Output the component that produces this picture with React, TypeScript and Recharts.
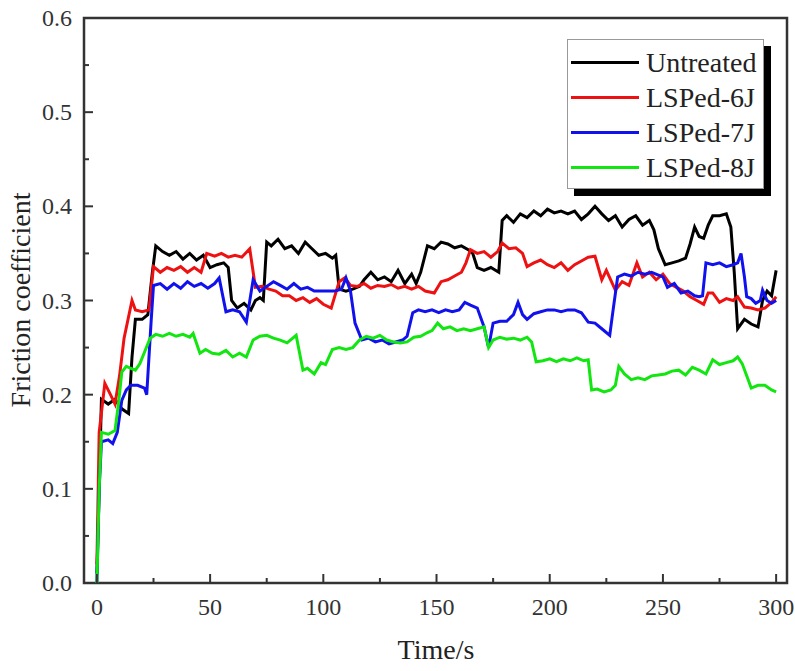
import React from 'react';
import { LineChart, Line, XAxis, YAxis, ReferenceArea } from 'recharts';

// values (time in s, friction coefficient)
const untreatedTime = [0, 1, 2, 5, 8, 11, 14, 15.5, 17, 20, 22.5, 24.5, 26, 29, 32, 35, 38, 41, 44, 47, 50, 53, 56, 58, 59.5, 62, 65, 68, 70, 72, 73.5, 75, 77, 80, 83, 86, 89, 92, 95, 98, 101, 104, 105.5, 107, 110, 113, 116, 118, 121, 124, 127, 130, 133, 136, 139, 141, 143, 146, 149, 152, 155, 158, 161, 164, 166, 168, 171, 174, 177.5, 179, 181, 184, 187, 190, 193, 196, 199, 202, 205, 208, 211, 214, 217, 220, 223, 226, 229, 232, 235, 238, 241, 244, 246, 248, 251, 254, 257, 260, 262, 264, 266, 268, 270, 272, 275, 278, 280, 281.5, 283, 286, 289, 292, 294, 296, 298, 300];
const untreatedValue = [0.01, 0.1, 0.195, 0.19, 0.195, 0.185, 0.18, 0.24, 0.28, 0.28, 0.285, 0.33, 0.358, 0.352, 0.348, 0.352, 0.344, 0.35, 0.343, 0.348, 0.335, 0.338, 0.34, 0.335, 0.3, 0.292, 0.297, 0.29, 0.3, 0.303, 0.3, 0.362, 0.358, 0.365, 0.355, 0.358, 0.35, 0.362, 0.355, 0.348, 0.35, 0.345, 0.348, 0.312, 0.31, 0.312, 0.315, 0.322, 0.33, 0.322, 0.325, 0.32, 0.332, 0.318, 0.328, 0.318, 0.33, 0.358, 0.355, 0.362, 0.36, 0.356, 0.358, 0.354, 0.35, 0.335, 0.332, 0.335, 0.33, 0.385, 0.39, 0.383, 0.392, 0.388, 0.395, 0.39, 0.397, 0.393, 0.395, 0.392, 0.395, 0.386, 0.392, 0.4, 0.392, 0.385, 0.39, 0.378, 0.386, 0.39, 0.38, 0.385, 0.375, 0.355, 0.338, 0.34, 0.342, 0.345, 0.36, 0.378, 0.368, 0.366, 0.38, 0.39, 0.39, 0.392, 0.378, 0.33, 0.27, 0.28, 0.275, 0.272, 0.3, 0.31, 0.305, 0.332];

const lsp6Time = [0, 1, 3.5, 6, 8, 10, 12, 15.5, 17, 20, 23, 25, 28, 31, 34, 37, 40, 43, 46, 48.5, 52, 55, 58, 61, 64, 67.5, 70, 73, 76, 79, 82, 85, 88, 91, 94, 97, 100, 103.5, 107, 109.5, 112, 115, 118, 121, 124, 127, 130, 133, 136, 139, 142, 145, 149, 152, 155, 158, 161, 163, 165, 168, 171, 174, 177, 179, 182, 185, 188, 190, 193, 196, 199, 202, 205, 208, 211, 214, 217, 220, 223, 225, 229, 232, 235, 238.5, 241, 244, 247, 250, 253, 256, 259, 262, 265, 268, 270, 272, 275, 278, 281, 283, 286, 289, 292, 295, 298, 300];
const lsp6Value = [0.02, 0.16, 0.212, 0.2, 0.19, 0.22, 0.26, 0.3, 0.29, 0.288, 0.29, 0.336, 0.33, 0.335, 0.332, 0.336, 0.33, 0.335, 0.33, 0.35, 0.347, 0.35, 0.346, 0.348, 0.346, 0.355, 0.314, 0.315, 0.312, 0.31, 0.305, 0.305, 0.3, 0.303, 0.298, 0.302, 0.296, 0.292, 0.32, 0.324, 0.316, 0.315, 0.318, 0.313, 0.316, 0.315, 0.317, 0.313, 0.315, 0.312, 0.315, 0.31, 0.308, 0.32, 0.322, 0.326, 0.33, 0.34, 0.354, 0.35, 0.352, 0.346, 0.352, 0.361, 0.355, 0.356, 0.35, 0.336, 0.34, 0.343, 0.338, 0.335, 0.34, 0.332, 0.338, 0.342, 0.346, 0.347, 0.322, 0.332, 0.311, 0.32, 0.316, 0.34, 0.325, 0.33, 0.322, 0.328, 0.318, 0.314, 0.31, 0.304, 0.3, 0.296, 0.308, 0.308, 0.298, 0.302, 0.3, 0.304, 0.293, 0.292, 0.29, 0.292, 0.298, 0.304];

const lsp7Time = [0, 1, 2, 5, 7, 9, 11, 13, 15, 18, 21, 22, 24, 25, 28, 31, 34, 37, 40, 43, 46, 49, 52, 54, 57, 60, 63, 66, 69, 72, 75, 78, 81, 84, 87, 90, 93, 96, 99, 102, 105, 108, 110, 112, 114, 117, 120, 123, 126, 129, 132, 135, 137, 139.5, 142, 145, 148, 151, 154, 157, 160, 162.5, 165, 168, 171, 173, 175, 178, 181, 184, 186, 188, 190, 193, 196, 199, 202, 205, 208, 211, 214, 217, 220, 223, 226.5, 228, 230, 233, 236, 239, 242, 245, 248, 250, 252, 255, 258, 261, 264, 266, 267.5, 269, 272, 275, 278, 281, 283, 284.5, 286, 287, 289, 291, 293, 294, 296, 298, 300];
const lsp7Value = [0, 0.1, 0.15, 0.152, 0.148, 0.16, 0.194, 0.205, 0.21, 0.21, 0.207, 0.2, 0.28, 0.316, 0.318, 0.312, 0.318, 0.313, 0.32, 0.315, 0.318, 0.313, 0.318, 0.324, 0.288, 0.29, 0.288, 0.277, 0.322, 0.31, 0.315, 0.32, 0.316, 0.312, 0.318, 0.312, 0.314, 0.31, 0.31, 0.31, 0.31, 0.312, 0.324, 0.31, 0.276, 0.258, 0.26, 0.256, 0.258, 0.254, 0.256, 0.258, 0.262, 0.287, 0.29, 0.288, 0.29, 0.287, 0.29, 0.288, 0.29, 0.298, 0.295, 0.292, 0.272, 0.25, 0.276, 0.278, 0.278, 0.285, 0.298, 0.285, 0.28, 0.286, 0.288, 0.29, 0.29, 0.288, 0.29, 0.29, 0.287, 0.277, 0.276, 0.27, 0.263, 0.29, 0.325, 0.328, 0.326, 0.33, 0.328, 0.33, 0.327, 0.325, 0.314, 0.318, 0.308, 0.31, 0.305, 0.304, 0.305, 0.34, 0.338, 0.34, 0.336, 0.338, 0.34, 0.35, 0.325, 0.304, 0.302, 0.297, 0.3, 0.311, 0.3, 0.297, 0.3];

const lsp8Time = [0, 1, 2, 5, 8, 9.5, 11, 13, 15, 17, 19, 21, 23.5, 26, 29, 32, 35, 38, 41, 42.5, 45.5, 48, 51, 54, 57, 60, 63, 66, 69, 72, 75, 78, 81, 84, 88, 91, 93, 96, 99, 101, 104, 107, 110, 113, 116, 119, 122, 125, 128, 131, 134, 137, 140, 143, 146, 148, 150.5, 153, 156, 159, 162, 165, 168, 171, 173, 175, 178, 181, 184, 187, 190, 192, 194, 197, 200, 203, 206, 209, 212, 215, 217, 218.5, 221, 224, 227, 229, 230.5, 233, 236, 239, 242, 245, 248, 251, 254, 257, 260, 263, 266, 269, 272, 275, 278, 281, 283, 285, 287, 289, 292, 295, 298, 300];
const lsp8Value = [0, 0.1, 0.16, 0.158, 0.162, 0.19, 0.224, 0.23, 0.228, 0.226, 0.233, 0.245, 0.26, 0.264, 0.262, 0.265, 0.262, 0.264, 0.261, 0.265, 0.244, 0.248, 0.244, 0.243, 0.247, 0.24, 0.244, 0.24, 0.258, 0.262, 0.263, 0.26, 0.258, 0.255, 0.263, 0.226, 0.228, 0.222, 0.234, 0.232, 0.248, 0.25, 0.248, 0.25, 0.258, 0.262, 0.26, 0.263, 0.258, 0.256, 0.255, 0.256, 0.261, 0.262, 0.266, 0.268, 0.276, 0.27, 0.272, 0.268, 0.27, 0.268, 0.27, 0.272, 0.25, 0.258, 0.261, 0.259, 0.26, 0.258, 0.261, 0.256, 0.235, 0.236, 0.238, 0.235, 0.238, 0.236, 0.239, 0.236, 0.237, 0.205, 0.206, 0.203, 0.205, 0.21, 0.23, 0.222, 0.216, 0.218, 0.216, 0.22, 0.221, 0.222, 0.225, 0.226, 0.221, 0.229, 0.226, 0.222, 0.237, 0.232, 0.234, 0.236, 0.24, 0.233, 0.22, 0.207, 0.21, 0.21, 0.205, 0.203];

const xTicks = [0, 25, 50, 75, 100, 125, 150, 175, 200, 225, 250, 275, 300];
const yTicks = [0, 0.05, 0.1, 0.15, 0.2, 0.25, 0.3, 0.35, 0.4, 0.45, 0.5, 0.55, 0.6];

const series = [
  { name: 'Untreated', color: '#000000', time: untreatedTime, value: untreatedValue },
  { name: 'LSPed-6J', color: '#ee1111', time: lsp6Time, value: lsp6Value },
  { name: 'LSPed-7J', color: '#1111ee', time: lsp7Time, value: lsp7Value },
  { name: 'LSPed-8J', color: '#11e611', time: lsp8Time, value: lsp8Value },
];

const FONT = '"Liberation Serif", "Times New Roman", serif';
const SVG_FONT = 'Liberation Serif';
const AXIS = '#333';

const toPoints = (time: number[], value: number[]) => time.map((t, i) => ({ t, v: value[i] }));

// ticks point into the plot, minor ones shorter and without a label
const renderXTick = (props: any) => {
  const { x, y, payload } = props;
  const major = payload.value % 50 === 0;
  return (
    <g key={`x-${payload.value}`}>
      <line x1={x} x2={x} y1={y} y2={y - (major ? 9 : 5)} stroke={AXIS} strokeWidth={2} />
      {major && (
        <text x={x} y={y + 32} textAnchor="middle" fontFamily={SVG_FONT} fontSize={24} fill="#333">
          {payload.value}
        </text>
      )}
    </g>
  );
};

const renderYTick = (props: any) => {
  const { x, y, payload } = props;
  const v = payload.value as number;
  const major = Math.abs(v * 10 - Math.round(v * 10)) < 1e-6;
  return (
    <g key={`y-${v}`}>
      <line x1={x} x2={x + (major ? 9 : 5)} y1={y} y2={y} stroke={AXIS} strokeWidth={2} />
      {major && (
        <text x={x - 12} y={y + 8} textAnchor="end" fontFamily={SVG_FONT} fontSize={24} fill="#333">
          {v.toFixed(1)}
        </text>
      )}
    </g>
  );
};

export default function App() {
  return (
    <div style={{ position: 'absolute', left: 0, top: 0, width: 795, height: 671, background: '#fff', fontFamily: FONT }}>
      <LineChart width={795} height={671} margin={{ top: 18, right: 8, left: 0, bottom: 0 }}>
        <XAxis
          dataKey="t"
          type="number"
          domain={[-5.7, 304.8]}
          allowDataOverflow
          ticks={xTicks}
          interval={0}
          tickSize={0}
          tickMargin={0}
          axisLine={false}
          tickLine={false}
          tick={renderXTick}
          height={88}
        />
        <YAxis
          type="number"
          domain={[0, 0.6]}
          allowDataOverflow
          ticks={yTicks}
          interval={0}
          tickSize={0}
          tickMargin={0}
          axisLine={false}
          tickLine={false}
          tick={renderYTick}
          width={84}
        />
        <ReferenceArea x1={-5.7} x2={304.8} y1={0} y2={0.6} fill="none" stroke={AXIS} strokeWidth={2.5} />
        {series.map((s) => (
          <Line
            key={s.name}
            data={toPoints(s.time, s.value)}
            dataKey="v"
            name={s.name}
            type="linear"
            stroke={s.color}
            strokeWidth={3}
            dot={false}
            isAnimationActive={false}
          />
        ))}
      </LineChart>

      <div
        style={{
          position: 'absolute',
          left: 21,
          top: 300,
          transform: 'translate(-50%, -50%) rotate(-90deg)',
          whiteSpace: 'nowrap',
          fontSize: 28,
          color: '#222',
        }}
      >
        Friction coefficient
      </div>
      <div
        style={{
          position: 'absolute',
          left: 436,
          top: 650,
          transform: 'translate(-50%, -50%)',
          whiteSpace: 'nowrap',
          fontSize: 28,
          color: '#222',
        }}
      >
        Time/s
      </div>

      <div
        style={{
          position: 'absolute',
          left: 567,
          top: 39,
          width: 197,
          height: 150,
          boxSizing: 'border-box',
          border: '1px solid #999',
          background: '#fff',
          boxShadow: '7px 7px 0 #000',
          paddingTop: 5,
        }}
      >
        {series.map((s) => (
          <div key={s.name} style={{ display: 'flex', alignItems: 'center', height: 35 }}>
            <div style={{ width: 68, height: 3, marginLeft: 3, background: s.color }} />
            <span style={{ marginLeft: 7, fontSize: 28, lineHeight: '35px', color: '#222' }}>{s.name}</span>
          </div>
        ))}
      </div>
    </div>
  );
}
